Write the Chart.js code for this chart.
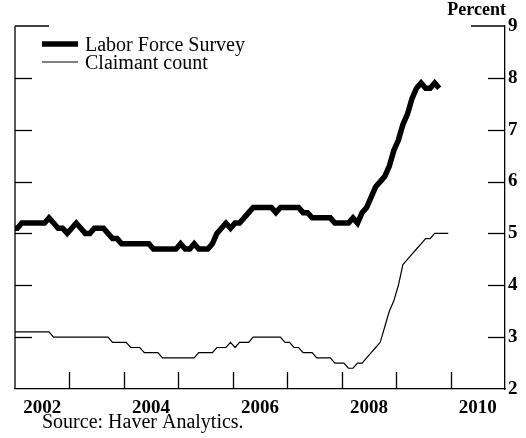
<!DOCTYPE html>
<html><head><meta charset="utf-8">
<script src="https://cdn.jsdelivr.net/npm/chart.js@4.4.0/dist/chart.umd.min.js"></script>
<style>html,body{margin:0;padding:0;background:#fff;}#wrap{width:526px;height:438px;position:relative;}</style>
</head><body><div id="wrap"><canvas id="c" width="526" height="438"></canvas></div>
<script>
// First observation: December 2001, monthly thereafter
const startYear = 2001;
const startMonth = 12;
const lfsValues = [5.1,5.1,5.2,5.2,5.2,5.2,5.2,5.2,
  5.3,5.2,5.1,5.1,5.0,5.1,5.2,5.1,5.0,5.0,5.1,5.1,5.1,5.0,4.9,4.9,
  4.8,4.8,4.8,4.8,4.8,4.8,4.8,
  4.7,4.7,4.7,4.7,4.7,4.7,
  4.8,4.7,4.7,4.8,4.7,4.7,4.7,4.8,5.0,5.1,5.2,5.1,5.2,5.2,5.3,5.4,
  5.5,5.5,5.5,5.5,5.5,5.4,5.5,5.5,5.5,5.5,5.5,5.4,5.4,
  5.3,5.3,5.3,5.3,5.3,5.2,5.2,5.2,5.2,
  5.3,5.2,5.4,5.5,5.7,5.9,6.0,6.1,6.3,6.6,6.8,7.1,7.3,7.6,7.8,7.9,7.8,7.8,7.9,7.8];
const claimantValues = [3.1,3.1,3.1,3.1,3.1,3.1,3.1,3.1,3.1,
  3.0,3.0,3.0,3.0,3.0,3.0,3.0,3.0,3.0,3.0,3.0,3.0,3.0,
  2.9,2.9,2.9,2.9, 2.8,2.8,2.8, 2.7,2.7,2.7,2.7,
  2.6,2.6,2.6,2.6,2.6,2.6,2.6,2.6, 2.7,2.7,2.7,2.7, 2.8,2.8,2.8, 2.9,2.8,2.9,2.9,2.9,
  3.0,3.0,3.0,3.0,3.0,3.0,3.0, 2.9,2.9, 2.8,2.8, 2.7,2.7,2.7, 2.6,2.6,2.6,2.6,
  2.5,2.5,2.5, 2.4,2.4, 2.5,2.5,
  2.6,2.7,2.8,2.9,3.2,3.5,3.7,4.0,4.4,4.5,4.6,4.7,4.8,4.9,4.9,5.0,5.0,5.0,5.0];
const seriesNames = ['Labor Force Survey', 'Claimant count'];
const xLabelYears = [2002, 2004, 2006, 2008, 2010];
const xTickYears = [2003, 2004, 2005, 2006, 2007, 2008, 2009, 2010];
const yTickValues = [3, 4, 5, 6, 7, 8];
const unitLabel = 'Percent';
const sourceNote = 'Source: Haver Analytics.';

const toPoints = vals => vals.map((v, i) => ({x: startYear + (startMonth - 1 + i + 0.5) / 12, y: v}));
const SERIF = '"Liberation Serif", "Times New Roman", serif';

const framePlugin = {
  id: 'frame',
  afterDraw(chart) {
    const {ctx, chartArea: a, scales: {x, y}} = chart;
    ctx.save();
    ctx.strokeStyle = '#000';
    ctx.lineWidth = 1.3;
    const seg = (x1, y1, x2, y2) => { ctx.beginPath(); ctx.moveTo(x1, y1); ctx.lineTo(x2, y2); ctx.stroke(); };
    seg(a.left, a.top, a.left, a.bottom);
    seg(a.left, a.top, a.left + 34, a.top);
    seg(a.right - 34, a.top, a.right, a.top);
    yTickValues.forEach(v => {
      const py = Math.round(y.getPixelForValue(v)) + 0.5;
      seg(a.left, py, a.left + 17, py);
      seg(a.right - 17, py, a.right, py);
    });
    xTickYears.forEach(yr => {
      const px = Math.round(x.getPixelForValue(yr)) + 0.5;
      seg(px, a.bottom, px, a.bottom - 17);
    });
    // legend
    const ds = chart.data.datasets;
    ctx.lineCap = 'butt';
    ds.forEach((d, i) => {
      const ly = 44 + i * 18;
      ctx.lineWidth = d.borderWidth;
      seg(42, ly, 78, ly);
      ctx.fillStyle = '#000';
      ctx.font = '20px ' + SERIF;
      ctx.textAlign = 'left';
      ctx.textBaseline = 'alphabetic';
      ctx.fillText(d.label, 85, ly + 7);
    });
    ctx.font = 'bold 18px ' + SERIF;
    ctx.textAlign = 'right';
    ctx.fillText(unitLabel, a.right + 1, 15);
    ctx.font = '20px ' + SERIF;
    ctx.textAlign = 'left';
    ctx.fillText(sourceNote, 42, 428);
    ctx.restore();
  }
};

new Chart(document.getElementById('c'), {
  type: 'line',
  data: {
    datasets: [
      {label: seriesNames[0], data: toPoints(lfsValues), borderColor: '#000', borderWidth: 5.5, pointRadius: 0, tension: 0, fill: false, borderJoinStyle: 'miter', clip: 0},
      {label: seriesNames[1], data: toPoints(claimantValues), borderColor: '#000', borderWidth: 1.2, pointRadius: 0, tension: 0, fill: false, clip: 0}
    ]
  },
  options: {
    responsive: false,
    animation: false,
    devicePixelRatio: 1,
    layout: {padding: {left: 15, top: 26, right: 0, bottom: 0}},
    plugins: {legend: {display: false}, tooltip: {enabled: false}},
    scales: {
      x: {
        type: 'linear', min: 2002, max: 2011, position: 'bottom',
        afterBuildTicks: s => { s.ticks = xLabelYears.map(v => ({value: v + 0.5})); },
        afterFit: s => { s.height = 49; },
        grid: {display: false, drawTicks: false},
        border: {display: true, color: '#000', width: 1.3},
        ticks: {callback: v => String(Math.floor(v)), color: '#000', padding: 8, maxRotation: 0, autoSkip: false,
                font: {family: SERIF, size: 19, weight: 'bold'}}
      },
      y: {
        position: 'right', min: 2, max: 9,
        afterFit: s => { s.width = 21; },
        grid: {display: false, drawTicks: false},
        border: {display: true, color: '#000', width: 1.3},
        ticks: {stepSize: 1, color: '#000', padding: 3,
                font: {family: SERIF, size: 19, weight: 'bold'}}
      }
    }
  },
  plugins: [framePlugin]
});
</script></body></html>
